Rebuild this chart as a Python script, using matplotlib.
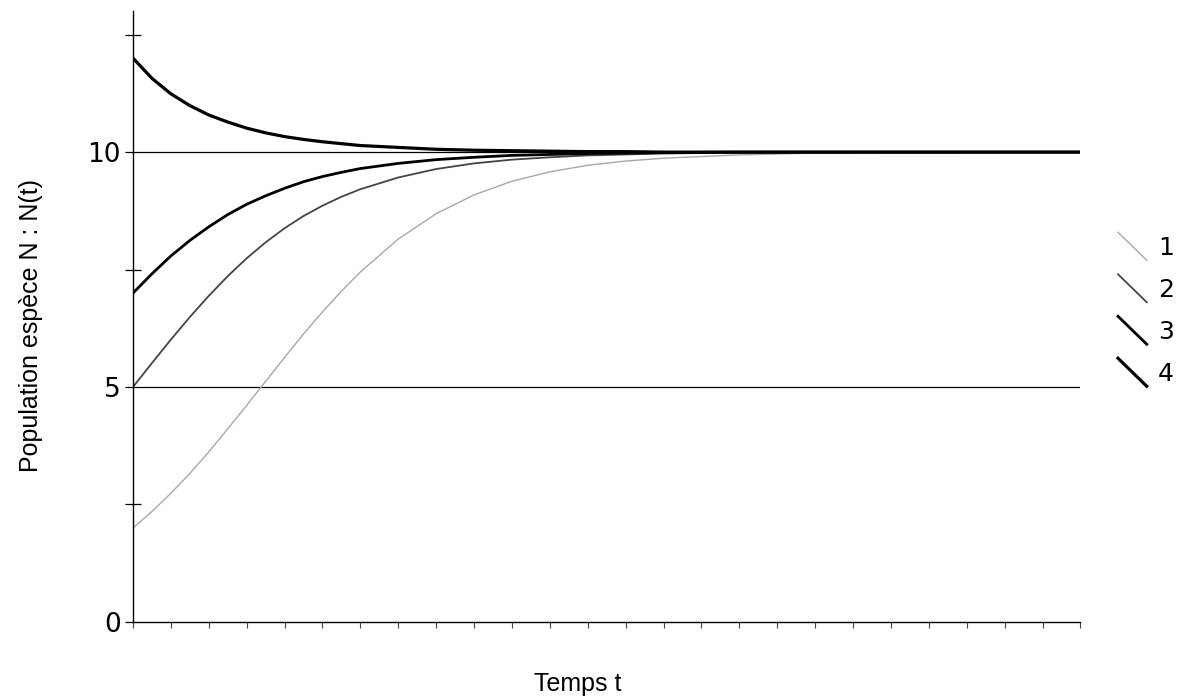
import matplotlib
matplotlib.use('Agg')
import matplotlib.pyplot as plt
from matplotlib.lines import Line2D
from matplotlib.legend_handler import HandlerLine2D

# Values (logistic growth towards K = 10)
t = [0, 0.5, 1, 1.5, 2, 2.5, 3, 3.5, 4, 4.5, 5, 5.5, 6, 7, 8, 9, 10, 11, 12, 13, 14, 16, 18, 20, 25]
n1 = [2.00, 2.35, 2.74, 3.16, 3.62, 4.11, 4.61, 5.12, 5.63, 6.13, 6.60, 7.04, 7.45,
      8.15, 8.69, 9.09, 9.38, 9.58, 9.72, 9.81, 9.87, 9.94, 9.98, 9.99, 10.0]
n2 = [5.00, 5.51, 6.01, 6.49, 6.94, 7.36, 7.74, 8.08, 8.38, 8.64, 8.86, 9.05, 9.21,
      9.46, 9.64, 9.76, 9.84, 9.89, 9.93, 9.95, 9.97, 9.99, 10.0, 10.0, 10.0]
n3 = [7.00, 7.41, 7.79, 8.12, 8.41, 8.67, 8.89, 9.07, 9.23, 9.37, 9.48, 9.57, 9.65,
      9.76, 9.84, 9.89, 9.93, 9.95, 9.97, 9.98, 9.99, 10.0, 10.0, 10.0, 10.0]
n4 = [12.00, 11.57, 11.24, 10.99, 10.79, 10.64, 10.51, 10.41, 10.33, 10.27, 10.22, 10.18, 10.14,
      10.10, 10.06, 10.04, 10.03, 10.02, 10.01, 10.01, 10.0, 10.0, 10.0, 10.0, 10.0]
labels = ['1', '2', '3', '4']
hlines = [5, 10]

narrow = ['Liberation Sans Narrow', 'Liberation Sans']


class DiagHandler(HandlerLine2D):
    # legend key drawn as a short diagonal stroke
    def create_artists(self, legend, orig_handle, xdescent, ydescent,
                       width, height, fontsize, trans):
        x0, x1 = -xdescent, -xdescent + width
        y0, y1 = -ydescent + height * 1.3, -ydescent - height * 0.3
        ln = Line2D([x0, x1], [y0, y1], color=orig_handle.get_color(),
                    linewidth=orig_handle.get_linewidth())
        ln.set_transform(trans)
        return [ln]


fig = plt.figure(figsize=(11.77, 6.98), dpi=100)
ax = fig.add_axes([0.113, 0.109, 0.805, 0.875])

for y in hlines:
    ax.axhline(y, color='black', linewidth=0.9, zorder=1)

h1, = ax.plot(t, n1, color='#a8a8a8', linewidth=1.0)
h2, = ax.plot(t, n2, color='#444444', linewidth=1.3)
h3, = ax.plot(t, n3, color='black', linewidth=2.0)
h4, = ax.plot(t, n4, color='black', linewidth=2.3)

ax.set_xlim(0, 25)
ax.set_ylim(0, 13)
for s in ['top', 'right']:
    ax.spines[s].set_visible(False)
for s in ['left', 'bottom']:
    ax.spines[s].set_linewidth(1.0)

ax.set_xticks(range(0, 26))
ax.set_xticklabels([])
ax.tick_params(axis='x', direction='out', length=4, width=0.8, color='#444444')
ax.set_yticks([0, 5, 10])
ax.set_yticks([2.5, 7.5, 12.5], minor=True)
ax.tick_params(axis='y', which='major', direction='out', length=6, width=0.9,
               labelsize=19, pad=3)
ax.tick_params(axis='y', which='minor', direction='inout', length=11, width=0.9)

ax.set_ylabel('Population espèce N : N(t)', family=narrow, fontsize=18)
ax.yaxis.set_label_coords(-0.095, 0.486)
ax.set_xlabel('Temps t', family=narrow, fontsize=18)
ax.xaxis.set_label_coords(0.469, -0.082)

fig.legend([h1, h2, h3, h4], labels, handler_map={Line2D: DiagHandler()},
           loc='upper left', bbox_to_anchor=(1118 / 1177, 1 - 236 / 698),
           borderpad=0, borderaxespad=0, frameon=False,
           fontsize=18, handlelength=1.15, handletextpad=0.45, labelspacing=0.72)

plt.savefig('out.png', dpi=100)
